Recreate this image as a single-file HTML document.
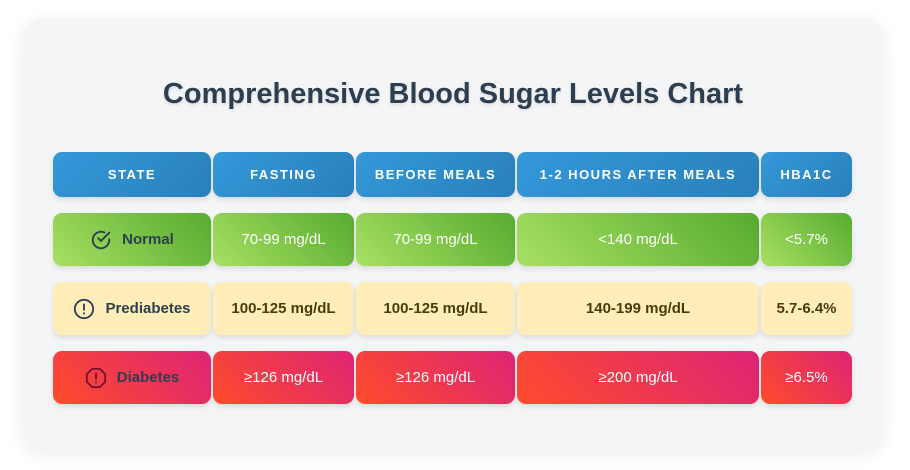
<!DOCTYPE html>
<html><head><meta charset="utf-8"><style>
body{margin:0;width:910px;height:470px;background:#fff;font-family:"Liberation Sans",Arial,sans-serif;overflow:hidden;position:relative}
.card{position:absolute;left:23px;top:18px;width:860px;height:432px;background:#f4f5f7;border-radius:20px;box-shadow:0 4px 18px rgba(0,0,0,0.08)}
h1{position:absolute;left:0;top:78px;width:906px;margin:0;text-align:center;font-size:29px;font-weight:bold;color:#2c3e50;text-shadow:0 2px 3px rgba(0,0,0,0.1)}
.c{position:absolute;display:flex;align-items:center;justify-content:center;border-radius:9px;font-weight:bold;font-size:15px;box-shadow:0 3px 6px rgba(0,0,0,0.1)}
.h{background:linear-gradient(135deg,#3498db,#2980b9);color:#fff;font-size:13px;letter-spacing:1.5px}
.n{background:linear-gradient(45deg,#a8e063,#56ab2f);color:#fff;font-weight:normal}
.p{background:#ffeeba;color:#4a3b0b}
.d{background:linear-gradient(45deg,#ff4b2b,#dd2476);color:#fff;font-weight:normal}
.s{color:#2c3e50;font-weight:bold}
svg{margin-right:10px}
</style></head><body>
<div class="card"></div>
<h1>Comprehensive Blood Sugar Levels Chart</h1>
<div id="t"></div>
<script>
const columns=["STATE","FASTING","BEFORE MEALS","1-2 HOURS AFTER MEALS","HBA1C"];
const states=["Normal","Prediabetes","Diabetes"];
const normalVals=["70-99 mg/dL","70-99 mg/dL","<140 mg/dL","<5.7%"];
const preVals=["100-125 mg/dL","100-125 mg/dL","140-199 mg/dL","5.7-6.4%"];
const diabVals=["≥126 mg/dL","≥126 mg/dL","≥200 mg/dL","≥6.5%"];
const xs=[53,213,356,517,761],ws=[158,141,159,242,91];
const ys=[152,213,282,351],hs=[45,53,53,53];
const cls=["n","p","d"];
const icons=[
'<svg width="22" height="22" viewBox="0 0 24 24" fill="none" stroke="#2c3e50" stroke-width="2" stroke-linecap="round"><path d="M21 11.1V12a9 9 0 1 1-5.3-8.2"/><path d="M21 4 12 13l-3-3"/></svg>',
'<svg width="22" height="22" viewBox="0 0 24 24" fill="none" stroke="#2c3e50" stroke-width="2" stroke-linecap="round"><circle cx="12" cy="12" r="10"/><path d="M12 7v6M12 16.5v.5"/></svg>',
'<svg width="22" height="22" viewBox="0 0 24 24" fill="none" stroke="#7a1030" stroke-width="2" stroke-linecap="round"><path d="M7.9 2h8.2L22 7.9v8.2L16.1 22H7.9L2 16.1V7.9z"/><path d="M12 7v6M12 16.5v.5"/></svg>'];
const t=document.getElementById('t');
function cell(x,y,w,h,c,html,name){const e=document.createElement('div');e.className='c '+c;
e.style.cssText=`left:${x}px;top:${y}px;width:${w}px;height:${h}px`;e.innerHTML=html;


t.appendChild(e);}
columns.forEach((c,i)=>cell(xs[i],ys[0],ws[i],hs[0],'h',c,'header-'+c.toLowerCase().replace(/[^a-z0-9]+/g,'-')));
[normalVals,preVals,diabVals].forEach((vals,r)=>{
 cell(xs[0],ys[r+1],ws[0],hs[r+1],cls[r]+' s',icons[r]+'<span>'+states[r]+'</span>','state-'+states[r].toLowerCase());
 vals.forEach((v,i)=>cell(xs[i+1],ys[r+1],ws[i+1],hs[r+1],cls[r],v.replace('<','&lt;'),states[r].toLowerCase()+'-'+columns[i+1].toLowerCase().replace(/[^a-z0-9]+/g,'-')));
});
</script>
</body></html>
